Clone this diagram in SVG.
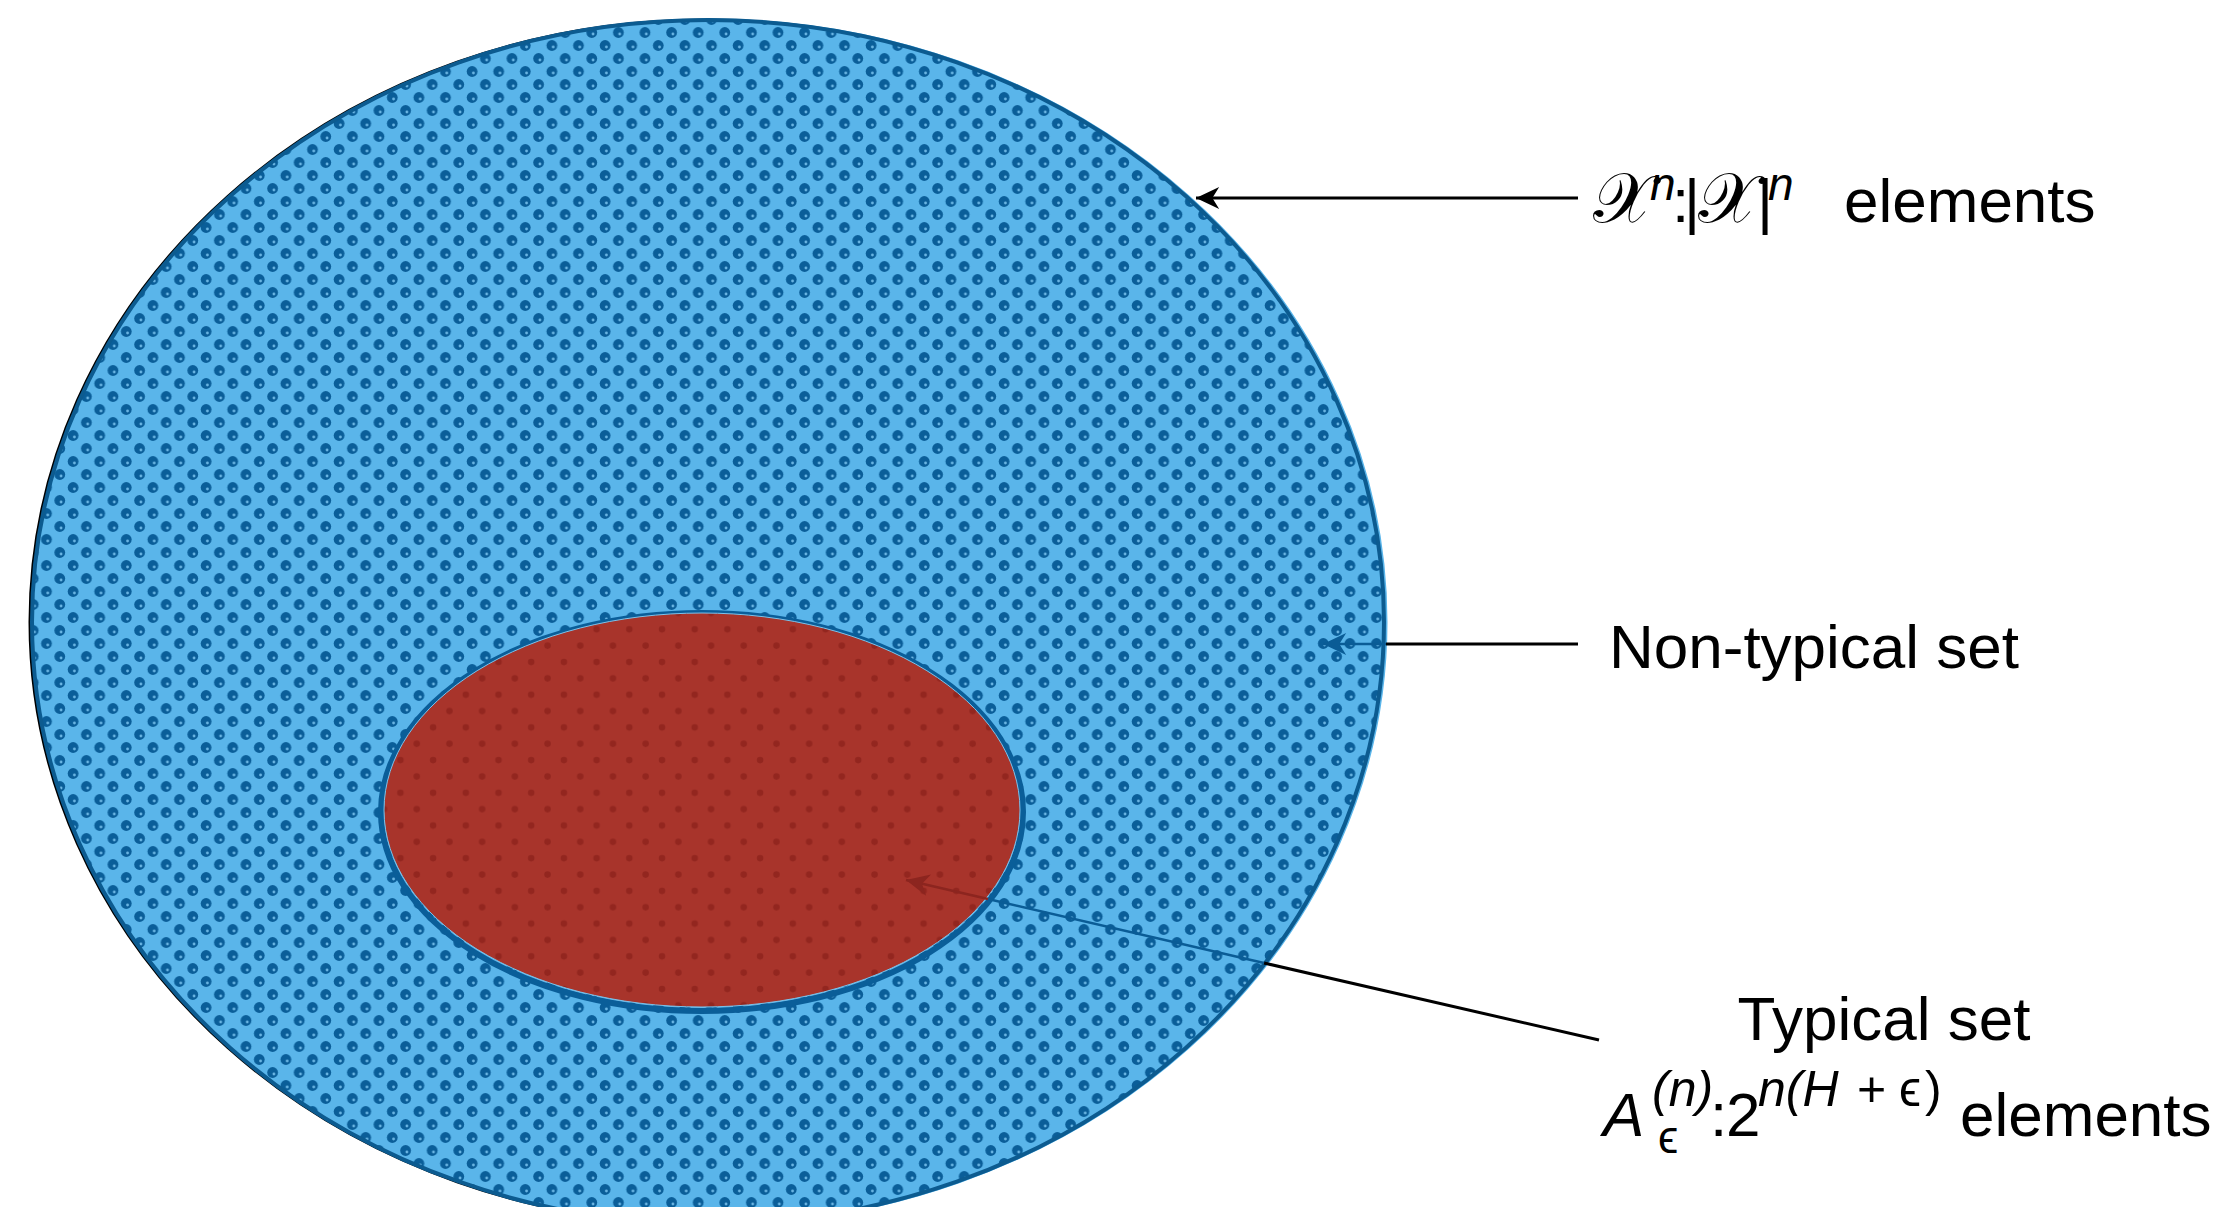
<svg xmlns="http://www.w3.org/2000/svg" width="2219" height="1207" viewBox="0 0 2219 1207">
  <style>
    .lbl { font-family: "Liberation Sans", Arial, sans-serif; font-size: 62px; fill: #000; }
    .it { font-style: italic; }
    .sup { font-size: 46px; }
    .sup2 { font-size: 50px; }
    .scr { font-family: "DejaVu Sans", "Noto Sans", serif; font-style: normal; font-size: 70px; }
    .conn { fill: none; stroke: #000; stroke-width: 3; }
    .connB { fill: none; stroke: #0a5c96; stroke-width: 2.5; }
    .connR { fill: none; stroke: #8c251f; stroke-width: 2.5; }
  </style>
  <defs>
    <pattern id="pBlue" width="26.6" height="26" patternUnits="userSpaceOnUse">
      <rect width="26.6" height="26" fill="#5ab5ea"/>
      <circle cx="6.6" cy="6.5" r="5.4" fill="#0a5e99"/>
      <circle cx="19.9" cy="19.5" r="5.4" fill="#0a5e99"/>
      <circle cx="7.9" cy="8" r="1.4" fill="#6bb6e4"/>
      <circle cx="21.2" cy="21" r="1.4" fill="#6bb6e4"/>
    </pattern>
    <pattern id="pRed" width="32.7" height="32.7" patternUnits="userSpaceOnUse">
      <rect width="32.7" height="32.7" fill="#a8342b"/>
      <circle cx="8" cy="8" r="3.3" fill="#93261f"/>
      <circle cx="24.35" cy="24.35" r="3.3" fill="#93261f"/>
    </pattern>
    <marker id="arrK" markerUnits="userSpaceOnUse" markerWidth="30" markerHeight="30" viewBox="-20 -10 22 20" refX="0" refY="0" orient="auto">
      <path d="M0,0 L-17,-8 L-12,0 L-17,8 Z" fill="#000"/>
    </marker>
    <marker id="arrB" markerUnits="userSpaceOnUse" markerWidth="30" markerHeight="30" viewBox="-20 -10 22 20" refX="0" refY="0" orient="auto">
      <path d="M0,0 L-17,-8 L-12,0 L-17,8 Z" fill="#0a5c96"/>
    </marker>
    <marker id="arrR" markerUnits="userSpaceOnUse" markerWidth="30" markerHeight="30" viewBox="-20 -10 22 20" refX="0" refY="0" orient="auto">
      <path d="M0,0 L-17,-8 L-12,0 L-17,8 Z" fill="#8c251f"/>
    </marker>
  </defs>

  <rect width="2219" height="1207" fill="#ffffff"/>

  <g id="outer-set">
    <ellipse cx="706" cy="622" rx="676" ry="602" fill="none" stroke="#000" stroke-width="3"/>
    <ellipse cx="710" cy="622" rx="676" ry="602" fill="none" stroke="#5ab5ea" stroke-width="3"/>
    <ellipse cx="708" cy="622" rx="676" ry="602" fill="url(#pBlue)" stroke="#0c5b90" stroke-width="4"/>
  </g>

  <g id="typical-set">
    <ellipse cx="702" cy="812" rx="321" ry="199" fill="none" stroke="#0a5e99" stroke-width="6"/>
    <ellipse cx="702" cy="810" rx="318" ry="197" fill="url(#pRed)" stroke="#7cc2ea" stroke-width="1"/>
  </g>

  <g id="connectors">
    <line class="conn" x1="1578" y1="198" x2="1196" y2="198" marker-end="url(#arrK)"/>
    <line class="conn" x1="1578" y1="644" x2="1386" y2="644"/>
    <line class="connB" x1="1386" y1="644" x2="1323" y2="644" marker-end="url(#arrB)"/>
    <line class="conn" x1="1599" y1="1040" x2="1264" y2="963"/>
    <line class="connB" x1="1264" y1="963" x2="988" y2="899"/>
    <line class="connR" x1="988" y1="899" x2="906" y2="880" marker-end="url(#arrR)"/>
  </g>

  <g id="label-outer">
    <text class="lbl" y="222"><tspan class="scr" x="1593">𝒳</tspan><tspan class="it sup" x="1650" dy="-22">n</tspan><tspan x="1672" dy="22">:</tspan><tspan x="1684">|</tspan><tspan class="scr" x="1698">𝒳</tspan><tspan x="1757">|</tspan><tspan class="it sup" x="1768" dy="-22">n</tspan><tspan x="1844" dy="22">elements</tspan></text>
  </g>

  <g id="label-nontypical">
    <text class="lbl" x="1609" y="668">Non-typical set</text>
  </g>

  <g id="label-typical">
    <text class="lbl" x="1884" y="1040" text-anchor="middle">Typical set</text>
    <text class="lbl" y="1136"><tspan class="it" x="1603">A</tspan><tspan class="it sup2" x="1652" dy="-30">(n)</tspan><tspan class="sup" x="1658" dy="47">ϵ</tspan><tspan x="1710" dy="-17">:</tspan><tspan x="1726">2</tspan><tspan class="it sup2" x="1758" dy="-30">n(H</tspan><tspan class="sup2" x="1857">+</tspan><tspan class="sup2" x="1899">ϵ</tspan><tspan class="sup2" x="1925">)</tspan><tspan x="1960" dy="30">elements</tspan></text>
  </g>
</svg>
